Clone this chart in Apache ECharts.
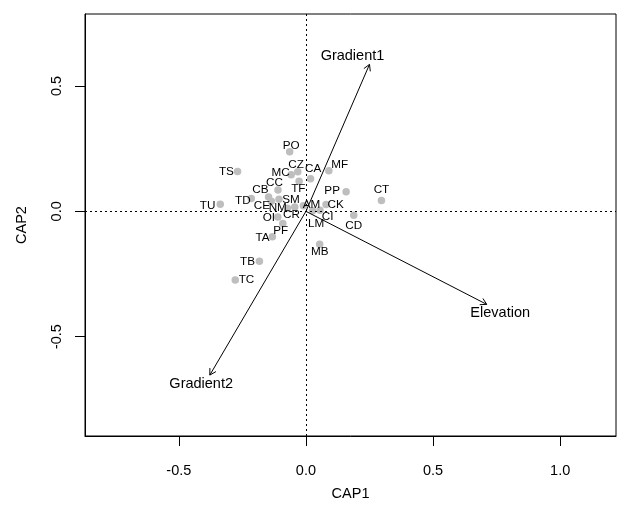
<!DOCTYPE html>
<html>
<head>
<meta charset="utf-8">
<script src="https://cdn.jsdelivr.net/npm/echarts@6/dist/echarts.min.js"></script>
<style>
html,body{margin:0;padding:0;background:#fff;}
#chart{width:617px;height:506px;}
</style>
</head>
<body>
<div id="chart"></div>
<script>
// Site scores (CAP1, CAP2)
const sites  = ['PO','TS','MC','CZ','CA','MF','CC','TF','CB','PP','CT','TU','TD','CE','NM','SM','OI','CR','AM','CK','CI','LM','CD','PF','TA','MB','TB','TC'];
const siteX  = [-0.064,-0.269,-0.058,-0.032,0.018,0.090,-0.110,-0.027,-0.147,0.158,0.297,-0.337,-0.215,-0.136,-0.073,-0.106,-0.111,-0.044,-0.010,0.079,0.055,0.026,0.188,-0.091,-0.132,0.054,-0.183,-0.278];
const siteY  = [0.238,0.159,0.146,0.158,0.130,0.162,0.085,0.120,0.057,0.078,0.043,0.028,0.051,0.040,0.012,0.048,-0.023,0.017,0.022,0.027,0.004,0.002,-0.016,-0.049,-0.101,-0.131,-0.199,-0.274];
// Label anchor positions (data units)
const labelX = [-0.058,-0.313,-0.100,-0.039,0.028,0.133,-0.124,-0.030,-0.179,0.103,0.297,-0.387,-0.248,-0.173,-0.111,-0.059,-0.146,-0.057,0.022,0.117,0.085,0.040,0.188,-0.099,-0.171,0.054,-0.230,-0.234];
const labelY = [0.263,0.157,0.153,0.187,0.170,0.187,0.114,0.090,0.085,0.081,0.084,0.024,0.041,0.024,0.014,0.047,-0.026,-0.014,0.026,0.025,-0.022,-0.049,-0.056,-0.076,-0.105,-0.161,-0.201,-0.274];
// Biplot vectors
const vectors   = ['Gradient1','Gradient2','Elevation'];
const vecX      = [0.250,-0.378,0.711];
const vecY      = [0.586,-0.653,-0.371];
const vecLabelX = [0.183,-0.412,0.764];
const vecLabelY = [0.618,-0.689,-0.404];
// Axis ticks
const xTicks = [-0.5,0,0.5,1.0];
const yTicks = [-0.5,0,0.5];

const FONT = "'Liberation Sans', Arial, Helvetica, sans-serif";
const chart = echarts.init(document.getElementById('chart'), null, {renderer:'canvas'});

const siteData = sites.map((s,i)=>({name:s, value:[siteX[i], siteY[i]]}));
const labelData = sites.map((s,i)=>({name:s, value:[labelX[i], labelY[i]]}));
const vecData = vectors.map((v,i)=>({name:v, value:[vecX[i], vecY[i]]}));
const vecLabelData = vectors.map((v,i)=>({name:v, value:[vecLabelX[i], vecLabelY[i]]}));

function textItem(names, fontSize){
  return function(params, api){
    const p = api.coord([api.value(0), api.value(1)]);
    return {
      type:'text',
      x:p[0], y:p[1],
      style:{text: names[params.dataIndex], fill:'#000', fontSize:fontSize, fontFamily:FONT, textAlign:'center', textVerticalAlign:'middle'}
    };
  };
}

const option = {
  animation:false,
  backgroundColor:'#fff',
  grid:{left:85, right:1, top:14, bottom:69, show:true, borderColor:'#000', borderWidth:1, backgroundColor:'transparent'},
  xAxis:{
    type:'value', min:-0.869, max:1.2195,
    name:'CAP1', nameLocation:'middle', nameGap:50,
    nameTextStyle:{fontFamily:FONT, fontSize:14.5, color:'#000'},
    axisLine:{show:true, onZero:false, lineStyle:{color:'#000', width:1}},
    axisTick:{show:true, length:10, customValues:xTicks, lineStyle:{color:'#000'}},
    axisLabel:{show:true, customValues:xTicks, margin:27, fontFamily:FONT, fontSize:14.5, color:'#000', formatter:v=>v.toFixed(1)},
    splitLine:{show:false}
  },
  yAxis:{
    type:'value', min:-0.896, max:0.787,
    name:'CAP2', nameLocation:'middle', nameGap:56, nameRotate:90,
    nameTextStyle:{fontFamily:FONT, fontSize:14.5, color:'#000'},
    axisLine:{show:true, onZero:false, lineStyle:{color:'#000', width:1}},
    axisTick:{show:true, length:10, customValues:yTicks, lineStyle:{color:'#000'}},
    axisLabel:{show:true, customValues:yTicks, rotate:90, margin:28, fontFamily:FONT, fontSize:14.5, color:'#000', formatter:v=>v.toFixed(1), verticalAlign:'middle', align:'center'},
    splitLine:{show:false}
  },
  series:[
    {
      type:'scatter', data:siteData, symbol:'circle', symbolSize:7.5,
      itemStyle:{color:'#BEBEBE', opacity:1},
      markLine:{
        silent:true, symbol:['none','none'], label:{show:false},
        lineStyle:{color:'#000', width:1, type:[2,3]},
        data:[{xAxis:0},{yAxis:0}]
      },
      z:2
    },
    {
      type:'custom', data:labelData, renderItem:textItem(sites, 11.7), z:3
    },
    {
      type:'custom', data:vecData, z:4,
      renderItem:function(params, api){
        const o = api.coord([0,0]);
        const e = api.coord([api.value(0), api.value(1)]);
        const ang = Math.atan2(e[1]-o[1], e[0]-o[0]);
        const L = 7, a = Math.PI/6;
        const h1 = [e[0]-L*Math.cos(ang-a), e[1]-L*Math.sin(ang-a)];
        const h2 = [e[0]-L*Math.cos(ang+a), e[1]-L*Math.sin(ang+a)];
        const st = {stroke:'#000', lineWidth:1, fill:null};
        return {type:'group', children:[
          {type:'line', shape:{x1:o[0],y1:o[1],x2:e[0],y2:e[1]}, style:st},
          {type:'polyline', shape:{points:[h1,e,h2]}, style:st}
        ]};
      }
    },
    {
      type:'custom', data:vecLabelData, renderItem:textItem(vectors, 14.5), z:5
    }
  ]
};
chart.setOption(option);
</script>
</body>
</html>
